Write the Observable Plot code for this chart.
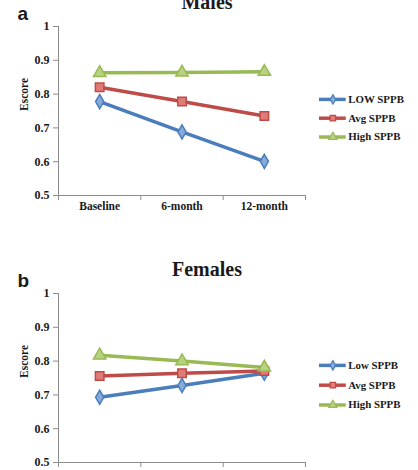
<!DOCTYPE html>
<html>
<head>
<meta charset="utf-8">
<script src="https://cdn.jsdelivr.net/npm/d3@7"></script>
<script src="https://cdn.jsdelivr.net/npm/@observablehq/plot@0.6"></script>
<style>
  html, body { margin: 0; padding: 0; background: #fff; }
  #root { position: relative; width: 418px; height: 470px; overflow: hidden; background: #fff; }
  .panel { position: absolute; left: 0; }
  .legend { position: absolute; }
  svg g[aria-label="y-axis tick"], svg g[aria-label="x-axis tick"] { stroke: #8c8c8c; }
  svg g[aria-label="y-axis"] line, svg g[aria-label="x-axis"] line { stroke: #8c8c8c; }
  svg g[aria-label="y-axis"] path.domain, svg g[aria-label="x-axis"] path.domain { display: none; }
</style>
</head>
<body>
<div id="root"></div>
<script>
const categories = ["Baseline", "6-month", "12-month"];
const seriesKeys = ["Low", "Avg", "High"];
const yTicks = [0.5, 0.6, 0.7, 0.8, 0.9, 1];

const malesLow  = [0.778, 0.688, 0.601];
const malesAvg  = [0.820, 0.778, 0.735];
const malesHigh = [0.863, 0.864, 0.866];
const malesLabels = ["LOW SPPB", "Avg SPPB", "High SPPB"];

const femalesLow  = [0.693, 0.728, 0.764];
const femalesAvg  = [0.756, 0.764, 0.771];
const femalesHigh = [0.817, 0.800, 0.781];
const femalesLabels = ["Low SPPB", "Avg SPPB", "High SPPB"];

const lineColors = ["#4a7dbb", "#be4b48", "#98b954"];
const fillColors = ["#86abdb", "#e07b78", "#b9d27f"];
const symbols = ["diamond", "square", "triangle"];
const symbolR = [4.3, 4.8, 4.6];

const serif = "'Liberation Serif', 'DejaVu Serif', serif";

function tidy(values) {
  const rows = [];
  values.forEach((arr, s) => arr.forEach((v, i) => rows.push({series: seriesKeys[s], si: s, cat: categories[i], i, x: i + 0.5, value: v})));
  return rows;
}

function panel(title, letter, values, top, marginTop, height, showXLabels) {
  const rows = tidy(values);
  const marks = [
    Plot.ruleX([0], {stroke: "#8c8c8c", strokeWidth: 1}),
    Plot.ruleY([0.5], {stroke: "#8c8c8c", strokeWidth: 1}),
    Plot.text([title], {text: d => d, frameAnchor: "top", dx: 25, dy: -18, lineAnchor: "bottom", fontSize: 20}),
    Plot.text([letter], {text: d => d, frameAnchor: "top-left", dx: -41, dy: -7, lineAnchor: "bottom", textAnchor: "start", fontSize: 19, fontFamily: "'Liberation Sans', Arial, sans-serif"}),
    Plot.text(["Escore"], {text: d => d, frameAnchor: "left", dx: -34, rotate: -90, fontSize: 11.5})
  ];
  if (showXLabels) {
    marks.push(Plot.text(categories, {x: (d, i) => i + 0.5, text: d => d, frameAnchor: "bottom", dy: 14, fontSize: 11.5}));
  }
  seriesKeys.forEach((k, s) => {
    const data = rows.filter(r => r.si === s);
    marks.push(Plot.line(data, {x: "x", y: "value", stroke: lineColors[s], strokeWidth: 3.5}));
  });
  seriesKeys.forEach((k, s) => {
    const data = rows.filter(r => r.si === s);
    marks.push(Plot.dot(data, {x: "x", y: "value", symbol: () => symbols[s], r: symbolR[s], fill: fillColors[s], stroke: lineColors[s], strokeWidth: 1.5}));
  });
  const chart = Plot.plot({
    width: 418,
    height,
    marginTop,
    marginBottom: height - marginTop - 169,
    marginLeft: 58,
    marginRight: 113,
    style: {fontFamily: serif, fontSize: "12px", fontWeight: "bold", color: "#1a1a1a", background: "transparent"},
    x: {type: "linear", domain: [0, 3], ticks: [0, 1, 2, 3], tickFormat: () => "", tickSize: 5, label: null},
    y: {domain: [0.5, 1], ticks: yTicks, tickFormat: d => d === 1 ? "1" : d.toFixed(1), tickSize: 5, tickPadding: 4, label: null},
    symbol: {type: "identity"},
    marks
  });
  const div = document.createElement("div");
  div.className = "panel";
  div.style.top = top + "px";
  div.appendChild(chart);
  document.getElementById("root").appendChild(div);
}

function legend(labels, left, top, spacing) {
  const items = labels.map((label, s) => ({label, s}));
  const chart = Plot.plot({
    width: 100,
    height: 20 + 2 * spacing,
    marginTop: 10,
    marginBottom: 10,
    marginLeft: 0,
    marginRight: 73,
    style: {fontFamily: serif, fontSize: "11px", fontWeight: "bold", color: "#1a1a1a", background: "transparent"},
    x: {axis: null, domain: [0, 1]},
    y: {type: "point", domain: labels, axis: null, padding: 0},
    symbol: {type: "identity"},
    marks: [
      Plot.ruleY(items, {y: "label", stroke: d => lineColors[d.s], strokeWidth: 3.5}),
      Plot.dot(items, {y: "label", symbol: d => symbols[d.s], r: d => symbolR[d.s] - 1, fill: d => fillColors[d.s], stroke: d => lineColors[d.s], strokeWidth: 1.2}),
      Plot.text(items, {y: "label", text: "label", frameAnchor: "right", textAnchor: "start", dx: 2, fill: "#1a1a1a"})
    ]
  });
  const div = document.createElement("div");
  div.className = "legend";
  div.style.left = left + "px";
  div.style.top = top + "px";
  div.appendChild(chart);
  document.getElementById("root").appendChild(div);
}

panel("Males", "a", [malesLow, malesAvg, malesHigh], 0, 26, 225, true);
panel("Females", "b", [femalesLow, femalesAvg, femalesHigh], 250, 43, 250, false);
legend(malesLabels, 319, 89, 19);
legend(femalesLabels, 319, 355, 20);
</script>
</body>
</html>
